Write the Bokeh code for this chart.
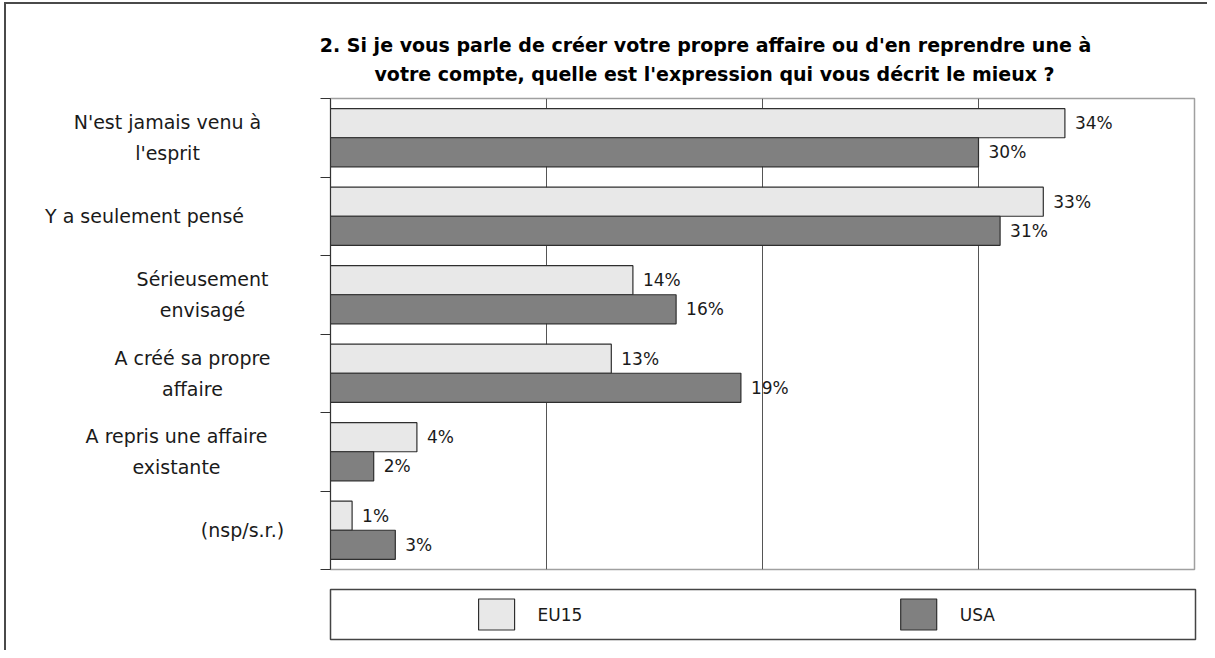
from bokeh.plotting import figure
from bokeh.models import Range1d, FixedTicker, ColumnDataSource
from bokeh.layouts import column, row
from bokeh.embed import file_html
from bokeh.resources import INLINE
from bokeh.core.properties import value

# ---------------- data ----------------
title_lines = ["2. Si je vous parle de créer votre propre affaire ou d'en reprendre une à",
               "votre compte, quelle est l'expression qui vous décrit le mieux ?"]
categories = [
    "N'est jamais venu à\nl'esprit",
    "Y a seulement pensé",
    "Sérieusement\nenvisagé",
    "A créé sa propre\naffaire",
    "A repris une affaire\nexistante",
    "(nsp/s.r.)",
]
series = ["EU15", "USA"]
eu15 = [34, 33, 14, 13, 4, 1]
usa = [30, 31, 16, 19, 2, 3]
x_ticks = [10, 20, 30]

# ---------------- style / layout ----------------
colors = ["#e8e8e8", "#808080"]
edge = "#2e2e2e"
FONT = "DejaVu Sans"
OX, OY = 6, 4                                       # offset caused by outer border
label_centres = [167, 144, 202, 192, 176, 242]     # px centre of category labels
title_centres = [705, 714]                          # px centre of title lines
title_rows = [44, 73]                               # px row of title lines
TOTAL_W = 1207

n = len(categories)
idx = list(range(n))
yr = Range1d(n, 0)

# ---- title strip ----
t_h = 98 - 5 - OY
tf = figure(width=TOTAL_W - OX, height=t_h, x_range=Range1d(OX, TOTAL_W), y_range=Range1d(t_h + OY, OY),
            output_backend="svg", toolbar_location=None,
            x_axis_location=None, y_axis_location=None,
            min_border_left=0, min_border_right=0, min_border_top=0, min_border_bottom=0)
tf.frame_align = False
tf.title.visible = False
tf.grid.visible = False
tf.outline_line_color = None
tsrc = ColumnDataSource(dict(x=title_centres, y=title_rows, t=title_lines))
tf.text(x="x", y="y", text="t", source=tsrc, text_align="center", text_baseline="middle",
        text_font=value(FONT), text_font_size="19px", text_font_style="bold",
        text_color="#000000")

# ---- category label column ----
lab_w = 310 - OX
lf = figure(width=lab_w, height=486, x_range=Range1d(OX, 310), y_range=yr,
            output_backend="svg", toolbar_location=None,
            x_axis_location=None, y_axis_location=None,
            min_border_left=0, min_border_right=0, min_border_top=5, min_border_bottom=10)
lf.frame_align = False
lf.title.visible = False
lf.grid.visible = False
lf.outline_line_color = None
csrc = ColumnDataSource(dict(x=label_centres, y=[i + 0.5 for i in idx], t=categories))
lf.text(x="x", y="y", text="t", source=csrc, text_align="center", text_baseline="middle",
        text_font=value(FONT), text_font_size="19px", text_line_height=1.42,
        text_color="#1a1a1a")

# ---- main bar chart ----
p = figure(width=TOTAL_W - 310, height=486, x_range=Range1d(0, 40), y_range=yr,
           output_backend="svg", toolbar_location=None,
           min_border_left=20, min_border_right=13, min_border_top=5, min_border_bottom=10)
p.frame_align = False
p.title.visible = False
p.xaxis.visible = False
p.xgrid.ticker = FixedTicker(ticks=x_ticks)
p.xgrid.grid_line_color = "#555555"
p.xgrid.grid_line_width = 1
p.ygrid.visible = False
p.yaxis.ticker = FixedTicker(ticks=list(range(n + 1)))
p.yaxis.major_label_overrides = {i: "" for i in range(n + 1)}
p.yaxis.major_label_standoff = 0
p.yaxis.major_tick_out = 10
p.yaxis.major_tick_in = 0
p.yaxis.minor_tick_line_color = None
p.yaxis.axis_line_color = "#333333"
p.yaxis.major_tick_line_color = "#333333"
p.outline_line_color = "#a0a0a0"
p.outline_line_width = 1.5

src = ColumnDataSource(dict(
    eu=eu15, us=usa,
    y_eu=[i + 0.315 for i in idx], y_us=[i + 0.685 for i in idx],
    lab_eu=[f"{v}%" for v in eu15], lab_us=[f"{v}%" for v in usa],
))
p.hbar(y="y_eu", left=0, right="eu", height=0.37, source=src,
       fill_color=colors[0], line_color=edge, line_width=1.2)
p.hbar(y="y_us", left=0, right="us", height=0.37, source=src,
       fill_color=colors[1], line_color=edge, line_width=1.2)
for col_x, col_y, col_t in (("eu", "y_eu", "lab_eu"), ("us", "y_us", "lab_us")):
    p.text(x=col_x, y=col_y, text=col_t, source=src, x_offset=10,
           text_baseline="middle", text_align="left",
           text_font=value(FONT), text_font_size="17px", text_color="#1a1a1a")

# ---- legend strip ----
item_start, item_step = 0.384, 0.976
leg = figure(width=TOTAL_W - OX, height=71, x_range=Range1d(0, 2), y_range=Range1d(0, 1),
             output_backend="svg", toolbar_location=None,
             x_axis_location=None, y_axis_location=None,
             min_border_left=330 - OX, min_border_right=12, min_border_top=10, min_border_bottom=11)
leg.frame_align = False
leg.title.visible = False
leg.grid.visible = False
leg.outline_line_color = "#444444"
leg.outline_line_width = 1.5
lsrc = ColumnDataSource(dict(x=[item_start + i * item_step for i in range(len(series))],
                             y=[0.5] * len(series), name=series, color=colors))
leg.rect(x="x", y="y", width=36, height=31, width_units="screen", height_units="screen",
         source=lsrc, fill_color="color", line_color=edge, line_width=1.2)
leg.text(x="x", y="y", text="name", source=lsrc, x_offset=41,
         text_baseline="middle", text_align="left",
         text_font=value(FONT), text_font_size="17px", text_color="#1a1a1a")

layout = column(tf, row(lf, p, spacing=0), leg, spacing=0,
                styles={"border-left": "2px solid #4a4a4a", "border-top": "2px solid #4a4a4a",
                        "margin-left": "4px", "margin-top": "2px"})
open("out.html", "w").write(file_html(layout, INLINE))
